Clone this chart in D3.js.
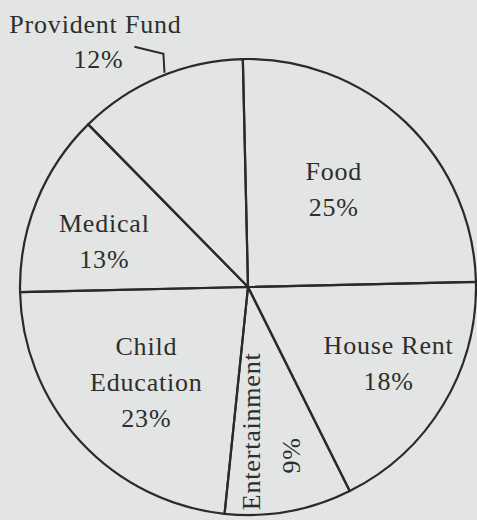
<!DOCTYPE html>
<html>
<head>
<meta charset="utf-8">
<script src="https://cdn.jsdelivr.net/npm/d3@7"></script>
<style>
  html, body { margin: 0; padding: 0; background: #e2e5e4; }
  svg { display: block; }
  text { font-family: "Liberation Serif", "DejaVu Serif", serif; fill: #2e2e2e; letter-spacing: 0.8px; }
</style>
</head>
<body>
<svg id="chart" width="477" height="520"></svg>
<script>
// ---- data ----
const categories = ["Food", "House Rent", "Entertainment", "Child Education", "Medical", "Provident Fund"];
const values = [25, 18, 9, 23, 13, 12];
const labelLines = [["Food"], ["House Rent"], ["Entertainment"], ["Child", "Education"], ["Medical"], ["Provident Fund"]];

// ---- layout ----
const W = 477, H = 520;
const cx = 248, cy = 287, R = 228;
const tilt = -1.3 * Math.PI / 180;   // slight rotation of the printed page
const fontSize = 26, lineGap = 36;
const stroke = "#2a2a2a";

const svg = d3.select("#chart");
const g = svg.append("g").attr("transform", `translate(${cx},${cy})`);

const pie = d3.pie().sort(null).value(d => d.v)
  .startAngle(tilt).endAngle(2 * Math.PI + tilt);
const data = categories.map((c, i) => ({ c, v: values[i], lines: labelLines[i] }));
const arcs = pie(data);
const arc = d3.arc().innerRadius(0).outerRadius(R);

g.selectAll("path.slice").data(arcs).join("path")
  .attr("class", "slice")
  .attr("d", arc)
  .attr("fill", "none")
  .attr("stroke", stroke)
  .attr("stroke-width", 2.2)
  .attr("stroke-linejoin", "round");

const polar = (r, a) => [r * Math.sin(a), -r * Math.cos(a)];
const deg = Math.PI / 180;
// label placement (radius, angular nudge from slice middle)
const place = {
  "Food": { r: 130, da: -2.4 },
  "House Rent": { r: 160, da: -2.6 },
  "Child Education": { r: 139, da: -0.3 },
  "Medical": { r: 151, da: -4.2 },
  "Entertainment": { r: 158, da: 1.9 }
};

const labels = g.append("g");
arcs.forEach(d => {
  const mid = (d.startAngle + d.endAngle) / 2;
  const pct = d.data.v + "%";
  if (d.data.c === "Provident Fund") {
    const [px, py] = polar(R + 2, mid + 1.6 * deg);
    labels.append("path")
      .attr("d", d3.line()([[px, py], [px - 1, py - 19], [px - 30, py - 26]]))
      .attr("fill", "none").attr("stroke", stroke).attr("stroke-width", 2);
    labels.append("text").attr("x", px - 69).attr("y", py - 40)
      .attr("text-anchor", "middle").attr("font-size", fontSize).text(d.data.lines[0]);
    labels.append("text").attr("x", px - 66).attr("y", py - 5)
      .attr("text-anchor", "middle").attr("font-size", fontSize).text(pct);
    return;
  }
  const p = place[d.data.c];
  const [lx, ly] = polar(p.r, mid + p.da * deg);
  if (d.data.c === "Entertainment") {
    const t = labels.append("g").attr("transform", `translate(${lx},${ly}) rotate(-90)`);
    t.append("text").attr("x", 12).attr("y", -11).attr("text-anchor", "middle")
      .attr("font-size", fontSize).text(d.data.lines[0]);
    t.append("text").attr("x", -12).attr("y", 29).attr("text-anchor", "middle")
      .attr("font-size", fontSize).text(pct);
    return;
  }
  const lines = d.data.lines.concat([pct]);
  const n = lines.length;
  lines.forEach((s, i) => {
    labels.append("text")
      .attr("x", lx)
      .attr("y", ly + 9 + (i - (n - 1) / 2) * lineGap)
      .attr("text-anchor", "middle")
      .attr("font-size", fontSize)
      .text(s);
  });
});
</script>
</body>
</html>
